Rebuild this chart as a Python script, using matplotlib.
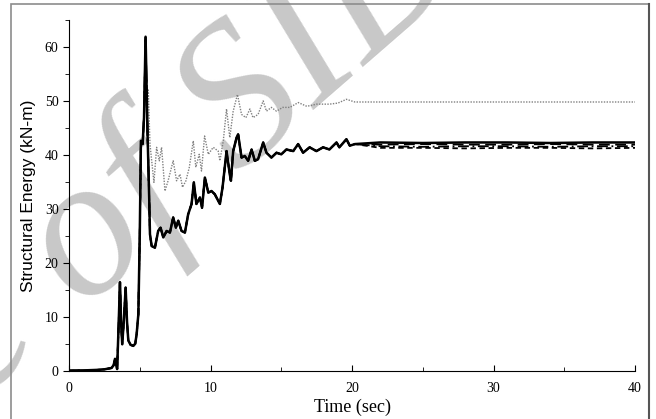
import matplotlib.pyplot as plt
from matplotlib.patches import Rectangle
from matplotlib.lines import Line2D

# shared record up to the main spike (all runs coincide here)
t_start = [0, 1.0, 2.0, 2.5, 3.0, 3.15, 3.25, 3.4, 3.5, 3.6, 3.68, 3.76, 3.88, 4.0,
           4.1, 4.19, 4.35, 4.54, 4.68, 4.78, 4.9, 5.0, 5.08, 5.2, 5.3, 5.41]
e_start = [0, 0.05, 0.15, 0.25, 0.5, 1.0, 2.2, 0.3, 8, 16.4, 9, 4.9, 9.5, 15.4,
           9, 5.6, 4.8, 4.6, 5.0, 6.8, 10.5, 25.3, 42.6, 42, 46.9, 61.9]

# black runs after the spike, up to 20 s
t_black = [5.55, 5.67, 5.72, 5.84, 6.07, 6.3, 6.47, 6.66, 6.9, 7.13, 7.36, 7.55, 7.72,
           7.95, 8.19, 8.42, 8.66, 8.82, 9.0, 9.25, 9.4, 9.6, 9.84, 10.07, 10.3, 10.66,
           10.85, 11.13, 11.36, 11.44, 11.6, 11.84, 11.95, 12.19, 12.42, 12.66, 12.9,
           13.13, 13.36, 13.72, 13.95, 14.3, 14.66, 15.0, 15.36, 15.84, 16.19, 16.54,
           17.0, 17.48, 17.95, 18.4, 18.9, 19.1, 19.6, 19.84, 20.2]
e_black = [43.8, 31.5, 25.3, 23.1, 22.8, 25.9, 26.5, 24.7, 25.9, 25.6, 28.4, 26.5, 27.8,
           25.9, 25.6, 29.0, 30.9, 34.9, 30.9, 32.1, 30.2, 35.8, 33.0, 33.3, 32.7, 30.9,
           34.0, 40.7, 36.4, 35.2, 40.7, 43.2, 43.8, 39.5, 39.8, 38.9, 41.0,
           38.9, 39.2, 42.3, 40.4, 39.5, 40.4, 40.1, 41.0, 40.7, 42.0, 40.4,
           41.4, 40.7, 41.4, 41.0, 42.3, 41.4, 42.9, 41.7, 42.0]

# steady tails of the four black runs
t_tail = [22, 25, 28, 31, 34, 37, 40]
e_solid = [42.3, 42.2, 42.3, 42.3, 42.2, 42.3, 42.3]
e_dash = [41.9, 42.0, 41.9, 41.9, 42.0, 41.9, 41.9]
e_dashdot = [41.6, 41.5, 41.6, 41.6, 41.5, 41.6, 41.6]
e_shortdash = [41.3, 41.3, 41.2, 41.3, 41.3, 41.2, 41.3]

# gray dotted run after the spike
t_dot = [5.5, 5.6, 5.72, 6.0, 6.19, 6.38, 6.54, 6.78, 7.0, 7.36, 7.6, 7.84, 8.02, 8.26,
         8.5, 8.78, 8.96, 9.2, 9.36, 9.58, 9.84, 10.19, 10.54, 10.66, 10.9, 11.13,
         11.36, 11.6, 11.9, 12.19, 12.5, 12.78, 13.0, 13.36, 13.72, 13.95, 14.3, 14.66,
         15.1, 15.6, 16.2, 16.8, 17.5, 18.4, 19.0, 19.6, 20.2, 25, 30, 35, 40]
e_dot = [46, 52.2, 42, 34.9, 41.4, 38.9, 41.4, 33.3, 35.2, 38.9, 35.2, 36.4, 34.0, 35.2,
         37.7, 42.6, 37.7, 40.1, 37.0, 43.5, 40.1, 41.4, 40.7, 38.9, 42.6, 48.5,
         43.2, 48.1, 51.2, 47.5, 46.9, 48.5, 46.9, 47.5, 50.0, 48.1, 48.8, 48.1,
         48.8, 48.8, 49.7, 49.0, 49.4, 49.4, 49.6, 50.3, 49.8, 49.8, 49.8, 49.8, 49.8]

fig = plt.figure(figsize=(6.56, 4.19), dpi=100)
ax = fig.add_axes([0.1052, 0.1153, 0.863, 0.837])
ax.patch.set_visible(False)

# page frame
fig.add_artist(Rectangle((0.0168, -0.05), 0.9725, 1.0405, transform=fig.transFigure,
                         fill=False, edgecolor='#8c8c8c', lw=1.2))
fig.add_artist(Line2D([0.9893, 0.9893], [0.0, 0.9905], transform=fig.transFigure,
                      color='#555555', lw=1.5))

# watermark
fig.text(-0.006, 0.212, 'Archive of SID', fontsize=145, family='Liberation Serif',
         style='italic', color='#c8c8c8', rotation=41, ha='center', va='center',
         rotation_mode='anchor', zorder=-1)

t_b = t_start + t_black
e_b = e_start + e_black
ax.plot(t_start + t_dot, e_start + e_dot, color='#808080', ls=(0, (1, 1)), lw=1.0)
ax.plot(t_b + t_tail, e_b + e_shortdash, color='black', ls=(0, (3, 2)), lw=1.3)
ax.plot(t_b + t_tail, e_b + e_dashdot, color='black', ls=(0, (6, 2, 1, 2)), lw=1.3)
ax.plot(t_b + t_tail, e_b + e_dash, color='black', ls=(0, (6, 3)), lw=1.3)
ax.plot(t_b + t_tail, e_b + e_solid, color='black', lw=1.8)

ax.set_xlim(0, 40)
ax.set_ylim(0, 65)
ax.set_xticks([0, 10, 20, 30, 40])
ax.set_xticks([5, 15, 25, 35], minor=True)
ax.set_yticks([0, 10, 20, 30, 40, 50, 60])
ax.set_yticks([5, 15, 25, 35, 45, 55, 65], minor=True)
for s in ['top', 'right']:
    ax.spines[s].set_visible(False)
ax.tick_params(axis='x', which='major', direction='in', length=4, pad=8,
               labelsize=10, labelfontfamily='Liberation Serif')
ax.tick_params(axis='x', which='minor', direction='in', length=3)
ax.tick_params(axis='y', which='major', direction='out', length=4.5, pad=3,
               labelsize=10, labelfontfamily='Liberation Serif')
ax.tick_params(axis='y', which='minor', direction='out', length=3)

ax.set_xlabel('Time (sec)', fontsize=13, family='Liberation Serif', labelpad=3)
ax.set_ylabel('Structural Energy (kN-m)', fontsize=12.5, family='Liberation Sans',
              labelpad=6)

fig.savefig('out.png', dpi=100)
